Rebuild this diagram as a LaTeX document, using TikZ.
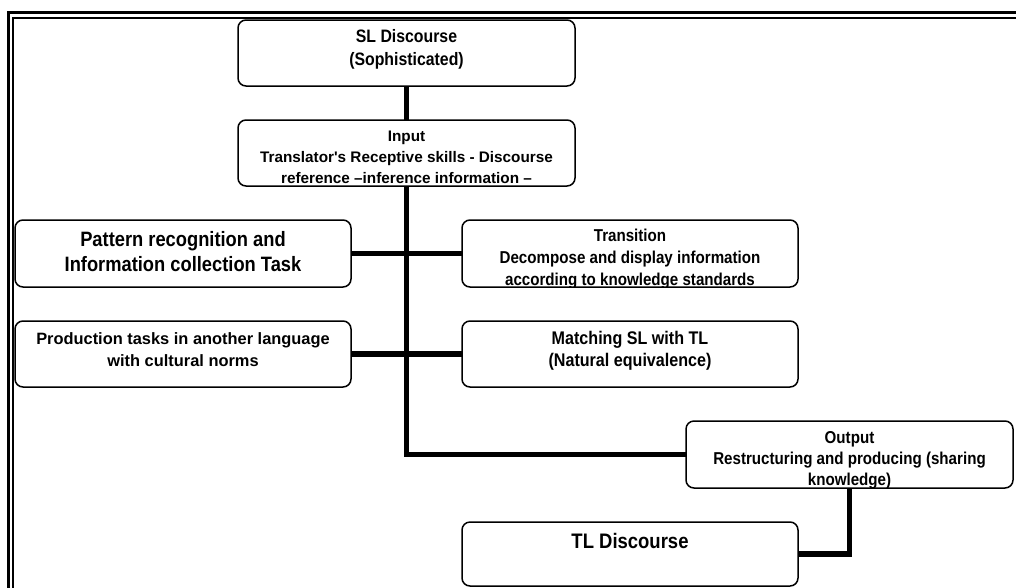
\documentclass[tikz,border=0pt]{standalone}
\usepackage{fontspec}
\setmainfont{Liberation Sans}
\newfontfamily\cnd[FakeStretch=0.88]{Liberation Sans}
\newcommand\mylines[2]{\vtop{\baselineskip=#1\relax\lineskip=0pt\lineskiplimit=-100pt\halign{\hfil##\hfil\cr#2\crcr}}}
\newcommand\fsz[1]{\fontsize{#1}{#1}\selectfont\bfseries}
\begin{document}
\begin{tikzpicture}[x=1pt,y=-1pt,
  box/.style={draw, line width=1.5pt, rounded corners=8pt, inner sep=0pt, outer sep=0pt, fill=white},
  txt/.style={inner sep=0pt, outer sep=0pt, anchor=base},
  link/.style={line width=5.5pt}]
\useasboundingbox (0,0) rectangle (1016,587);
% frame
\draw[line width=3pt] (8,590) -- (8,12.5) -- (1020,12.5);
\draw[line width=1.5pt] (12.8,590) -- (12.8,17.8) -- (1020,17.8);
% boxes
\node[box, minimum width=337pt, minimum height=66pt] (sl) at (406.5,53) {};
\node[box, minimum width=337pt, minimum height=66pt] (inp) at (406.5,153) {};
\node[box, minimum width=336pt, minimum height=67pt] (pat) at (183,253.5) {};
\node[box, minimum width=336pt, minimum height=66pt] (pro) at (183,354) {};
\node[box, minimum width=336pt, minimum height=67pt] (tra) at (630,253.5) {};
\node[box, minimum width=336pt, minimum height=66pt] (mat) at (630,354) {};
\node[box, minimum width=327pt, minimum height=67pt] (out) at (849.5,454.5) {};
\node[box, minimum width=336pt, minimum height=64pt] (tl) at (630,554) {};
% texts
\node[txt] (sl-t) at (406.5,42) {\cnd\fsz{18}\mylines{23pt}{SL Discourse\cr(Sophisticated)}};
\node[txt] (inp-t) at (406.5,141.7) {\fsz{15.3}\mylines{21pt}{Input\cr Translator\textquotesingle s Receptive skills - Discourse\cr reference –inference information –}};
\node[txt] (pat-t) at (183,246.7) {\cnd\fsz{20.8}\mylines{25pt}{Pattern recognition and\cr Information collection Task}};
\node[txt] (pro-t) at (183,344) {\fsz{16.4}\mylines{22.7pt}{Production tasks in another language\cr with cultural norms}};
\begin{scope}
\clip[rounded corners=8pt] (tra.south west) rectangle (tra.north east);
\node[txt] (tra-t) at (630,241.7) {\cnd\fsz{17.2}\mylines{21.8pt}{Transition\cr Decompose and display information\cr according to knowledge standards}};
\end{scope}
\node[txt] (mat-t) at (630,344) {\cnd\fsz{18.3}\mylines{22.7pt}{Matching SL with TL\cr (Natural equivalence)}};
\begin{scope}
\clip[rounded corners=8pt] (out.south west) rectangle (out.north east);
\node[txt] (out-t) at (849.5,443.5) {\cnd\fsz{17.2}\mylines{21pt}{Output\cr Restructuring and producing (sharing\cr knowledge)}};
\end{scope}
\node[txt] (tl-t) at (630,548.3) {\cnd\fsz{21}TL Discourse};
% connectors
\draw[link] (sl.south) -- (inp.north);
\draw[link] (inp.south) |- (out.west);
\draw[link] (pat.east) -- (tra.west);
\draw[link] (pro.east) -- (mat.west);
\draw[link] (out.south) |- (tl.east);
\end{tikzpicture}
\end{document}
